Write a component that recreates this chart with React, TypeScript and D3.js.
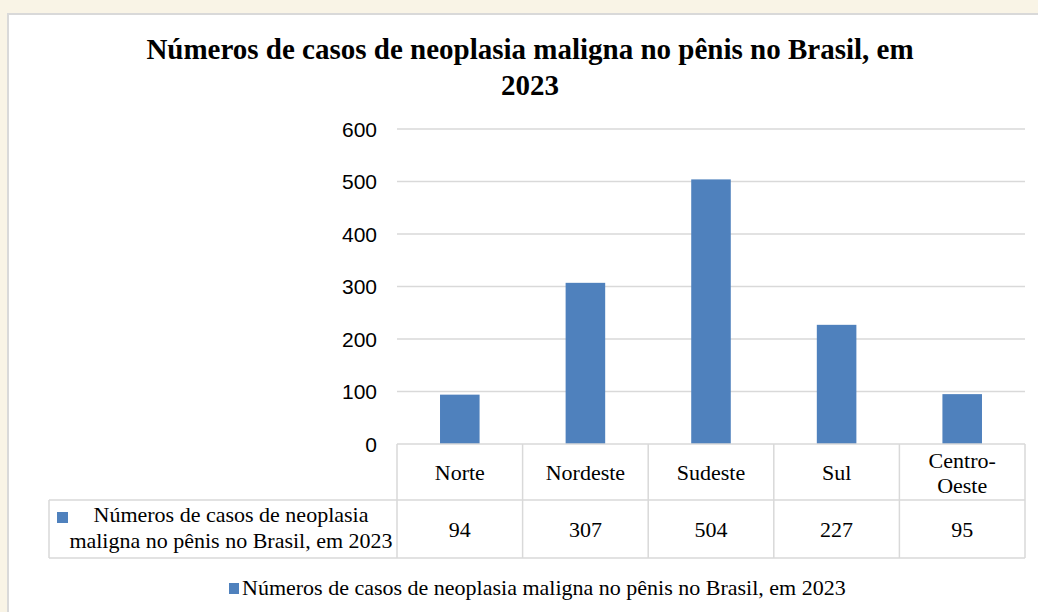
import * as d3 from 'd3';
import React from 'react';

const REGIONS = ['Norte', 'Nordeste', 'Sudeste', 'Sul', 'Centro-Oeste'];
const REGION_LINES = [['Norte'], ['Nordeste'], ['Sudeste'], ['Sul'], ['Centro-', 'Oeste']];
const CASES = [94, 307, 504, 227, 95];
const Y_TICKS = [0, 100, 200, 300, 400, 500, 600];
const SERIES_NAME = 'Números de casos de neoplasia maligna no pênis no Brasil, em 2023';
const SERIES_LINES = ['Números de casos de neoplasia', 'maligna no pênis no Brasil, em 2023'];
const TITLE_LINES = ['Números de casos de neoplasia maligna no pênis no Brasil, em', '2023'];

const WIDTH = 1038;
const HEIGHT = 612;
const BAR_COLOR = '#4f81bd';
const GRID_COLOR = '#d9d9d9';
const SERIF = '"Liberation Serif", "Times New Roman", serif';
const SANS = '"Liberation Sans", Arial, sans-serif';

export default function App() {
  const plot = { left: 397, right: 1025, top: 129, bottom: 444 };
  const table = { left: 49, headerBottom: 500, bottom: 558 };

  const x = d3.scaleBand<string>().domain(REGIONS).range([plot.left, plot.right]).padding(0);
  const y = d3.scaleLinear().domain([0, 600]).range([plot.bottom, plot.top]);
  const barWidth = x.bandwidth() * 0.315;
  const colEdges = REGIONS.map((r) => x(r) as number).concat(plot.right);

  return (
    <svg
      width={WIDTH}
      height={HEIGHT}
      style={{ position: 'absolute', left: 0, top: 0, display: 'block' }}
    >
      <rect x={0} y={0} width={WIDTH} height={HEIGHT} fill="#f9f4e6" />
      <rect x={8} y={14} width={WIDTH + 10} height={HEIGHT + 10} fill="#fff" stroke={GRID_COLOR} strokeWidth={2} />

      {/* title */}
      {TITLE_LINES.map((line, i) => (
        <text
          key={line}
          x={530}
          y={59 + i * 36}
          textAnchor="middle"
          fontFamily={SERIF}
          fontWeight={700}
          fontSize={29}
          fill="#000"
        >
          {line}
        </text>
      ))}

      {/* gridlines and y labels */}
      {Y_TICKS.map((t) => (
        <g key={t}>
          {t > 0 && (
            <line x1={plot.left} x2={plot.right} y1={y(t)} y2={y(t)} stroke={GRID_COLOR} strokeWidth={1.5} />
          )}
          <text
            x={377}
            y={y(t)}
            dy="0.36em"
            textAnchor="end"
            fontFamily={SANS}
            fontSize={21}
            fill="#000"
          >
            {t}
          </text>
        </g>
      ))}

      {/* bars */}
      {REGIONS.map((r, i) => (
        <rect
          key={r}
          x={(x(r) as number) + x.bandwidth() / 2 - barWidth / 2}
          y={y(CASES[i])}
          width={barWidth}
          height={y(0) - y(CASES[i])}
          fill={BAR_COLOR}
        />
      ))}

      {/* data table */}
      <g stroke={GRID_COLOR} strokeWidth={1.5} fill="none">
        <line x1={plot.left} x2={plot.right} y1={plot.bottom} y2={plot.bottom} />
        <line x1={table.left} x2={plot.right} y1={table.headerBottom} y2={table.headerBottom} />
        <line x1={table.left} x2={plot.right} y1={table.bottom} y2={table.bottom} />
        <line x1={table.left} x2={table.left} y1={table.headerBottom} y2={table.bottom} />
        {colEdges.map((cx, i) => (
          <line key={i} x1={cx} x2={cx} y1={plot.bottom} y2={table.bottom} />
        ))}
      </g>

      {REGIONS.map((r, i) => {
        const cx = (x(r) as number) + x.bandwidth() / 2;
        const lines = REGION_LINES[i];
        const mid = (plot.bottom + table.headerBottom) / 2;
        return (
          <g key={r} fontFamily={SERIF} fontSize={22} fill="#000" textAnchor="middle">
            {lines.map((ln, j) => (
              <text key={ln} x={cx} y={mid + 8 + (j - (lines.length - 1) / 2) * 25}>
                {ln}
              </text>
            ))}
            <text x={cx} y={(table.headerBottom + table.bottom) / 2 + 8}>
              {CASES[i]}
            </text>
          </g>
        );
      })}

      {/* row header with legend key */}
      <rect x={57} y={512} width={11} height={11} fill={BAR_COLOR} />
      {SERIES_LINES.map((ln, j) => (
        <text
          key={ln}
          x={231}
          y={522 + j * 26}
          textAnchor="middle"
          fontFamily={SERIF}
          fontSize={22}
          fill="#000"
        >
          {ln}
        </text>
      ))}

      {/* bottom legend */}
      <rect x={229} y={583} width={10} height={11} fill={BAR_COLOR} />
      <text x={242} y={595} fontFamily={SERIF} fontSize={22} fill="#000">
        {SERIES_NAME}
      </text>
    </svg>
  );
}
